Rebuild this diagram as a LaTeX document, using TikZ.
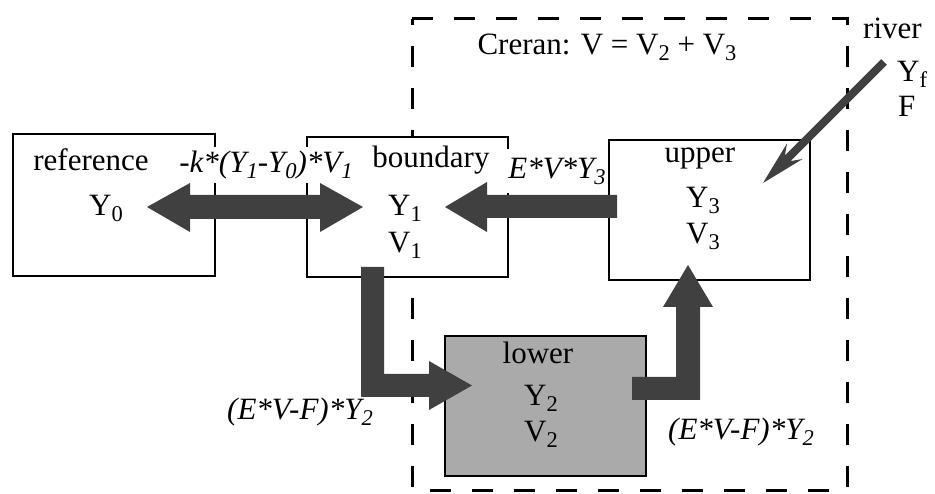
\documentclass[tikz,border=0pt]{standalone}
\usepackage{fontspec}
\setmainfont{Liberation Serif}
\newcommand{\sbs}[1]{\raisebox{-6pt}{\fontsize{22.5}{24}\selectfont#1}}
\definecolor{arrowgray}{HTML}{404040}
\definecolor{lowergray}{HTML}{AAAAAA}
\begin{document}
\begin{tikzpicture}[x=1pt,y=-1pt,
  font=\fontsize{31}{36}\selectfont,
  box/.style={draw=black,line width=1.3pt,fill=white},
  lbl/.style={inner sep=0pt,anchor=center},
  wlbl/.style={fill=white,inner xsep=2pt,inner ysep=4pt,anchor=center,font=\fontsize{31}{36}\selectfont\itshape},
  flow/.style={fill=arrowgray,draw=none}]
\useasboundingbox (0,0) rectangle (935,494);
% dashed Creran outline
\draw[line width=3pt,dash pattern=on 21pt off 21pt,dash phase=0pt] (412,19) -- (847,19) -- (847,490) -- (412,490) -- cycle;
% boxes
\draw[box] (13,134) rectangle (215,276);
\node[inner sep=0pt] (ref) at (114,205) {};
\draw[box] (307,137) rectangle (508,277);
\node[inner sep=0pt] (bnd) at (407,207) {};
\draw[box] (609,140) rectangle (810,280);
\node[inner sep=0pt] (upp) at (709,210) {};
\draw[box,fill=lowergray,line width=1.5pt] (445,336) rectangle (646,476);
\node[inner sep=0pt] (low) at (545,406) {};
% flux labels (white background hides box edges)
\node[wlbl] (kflux) at (266,165) {-k*(Y\sbs{1}-Y\sbs{0})*V\sbs{1}};
\node[wlbl,minimum height=44pt] (eflux) at (557,171) {E*V*Y\sbs{3}};
\node[lbl,font=\fontsize{31}{36}\selectfont\itshape] (lflux) at (300,412) {(E*V-F)*Y\sbs{2}};
\node[lbl,font=\fontsize{31}{36}\selectfont\itshape] (rflux) at (741,432) {(E*V-F)*Y\sbs{2}};
% flow arrows
\fill[flow] (147,207) -- (190,183) -- (190,195) -- (320,195) -- (320,183) -- (363,207)
  -- (320,232) -- (320,219) -- (190,219) -- (190,232) -- cycle;
\fill[flow] (617,195) -- (487,195) -- (487,182) -- (445,207) -- (487,232) -- (487,218) -- (617,218) -- cycle;
\fill[flow] (361,267) -- (384,267) -- (384,374) -- (429,374) -- (429,361) -- (472,385.5)
  -- (429,410) -- (429,397) -- (361,397) -- cycle;
\fill[flow] (632,377) -- (676,377) -- (676,307) -- (663,307) -- (688,265) -- (713,307)
  -- (700,307) -- (700,400) -- (632,400) -- cycle;
% river inflow
\fill[flow] (763,183) -- (802.6,159.0) -- (790.6,161.1) -- (886.8,64.8) -- (881.2,59.2)
  -- (784.9,155.5) -- (787.0,143.4) -- cycle;
% texts
\node[lbl] (creran) at (607,47) {Creran: V = V\sbs{2} + V\sbs{3}};
\node[lbl,anchor=west] (river) at (863,28) {river};
\node[lbl,anchor=west] (yf) at (897,74) {Y\sbs{f}};
\node[lbl,anchor=west] (ff) at (898,106) {F};
\node[lbl] (reft) at (91,160) {reference};
\node[lbl] (y0) at (106,208) {Y\sbs{0}};
\node[lbl] (bndt) at (431,160) {boundary};
\node[lbl] (y1) at (405,208) {Y\sbs{1}};
\node[lbl] (v1) at (405,245) {V\sbs{1}};
\node[lbl] (uppt) at (700,158) {upper};
\node[lbl] (y3) at (703,200) {Y\sbs{3}};
\node[lbl] (v3) at (703,236) {V\sbs{3}};
\node[lbl] (lowt) at (538,353) {lower};
\node[lbl] (y2) at (541,398) {Y\sbs{2}};
\node[lbl] (v2) at (541,434) {V\sbs{2}};
\end{tikzpicture}
\end{document}
